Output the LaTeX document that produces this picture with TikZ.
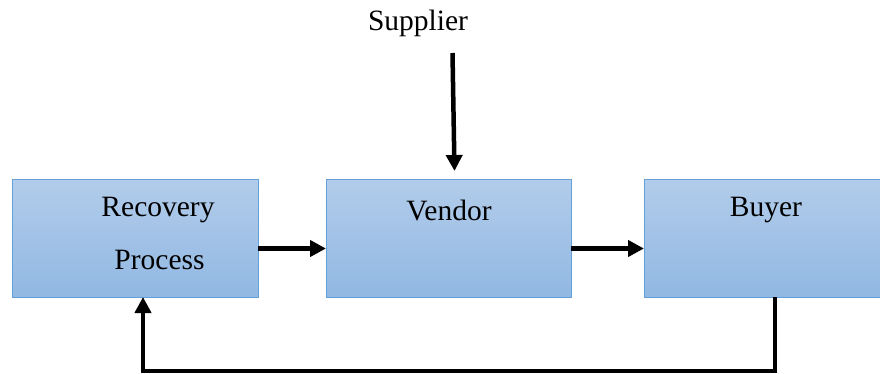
\documentclass[tikz,border=0pt]{standalone}
\usepackage{fontspec}
\setmainfont{Liberation Serif}
\usetikzlibrary{arrows.meta}
\definecolor{boxtop}{RGB}{178,204,234}
\definecolor{boxbot}{RGB}{145,184,227}
\definecolor{boxline}{RGB}{100,160,218}
\tikzset{
  blockbox/.style={draw=boxline, line width=1pt, top color=boxtop, bottom color=boxbot,
    minimum height=117pt, inner sep=0pt, outer sep=0pt},
  lbl/.style={font=\fontsize{29.5}{34}\selectfont, inner sep=0pt, anchor=center},
  flow/.style={line width=4.5pt, -{Triangle[length=16pt,width=16pt]}},
}
\begin{document}
\begin{tikzpicture}[x=1pt,y=-1pt]
\useasboundingbox (0,0) rectangle (880,374);
\clip (0,0) rectangle (880,374);
\node[blockbox, minimum width=246pt] (rec) at (135,238.5) {};
\node[blockbox, minimum width=245pt] (ven) at (448.5,238.5) {};
\node[blockbox, minimum width=246pt] (buy) at (767,238.5) {};
\node[lbl] (t1) at (158,210) {Recovery};
\node[lbl] (t2) at (159.5,260) {Process};
\node[lbl] (t3) at (449,210) {Vendor};
\node[lbl] (t4) at (766,210) {Buyer};
\node[lbl] (sup) at (418,23) {Supplier};
\coordinate (s1) at (452.5,53);
\coordinate (s2) at (454.5,171);
\draw[flow] (s1) -- (s2);
\draw[flow] ([yshift=-10pt]rec.east) -- ([yshift=-10pt]ven.west);
\draw[flow] ([yshift=-10pt]ven.east) -- ([yshift=-10pt]buy.west);
\coordinate (fb) at (143,371);
\draw[flow] ([xshift=8pt]buy.south) |- (fb) -- ([xshift=8pt]rec.south);
\end{tikzpicture}
\end{document}
